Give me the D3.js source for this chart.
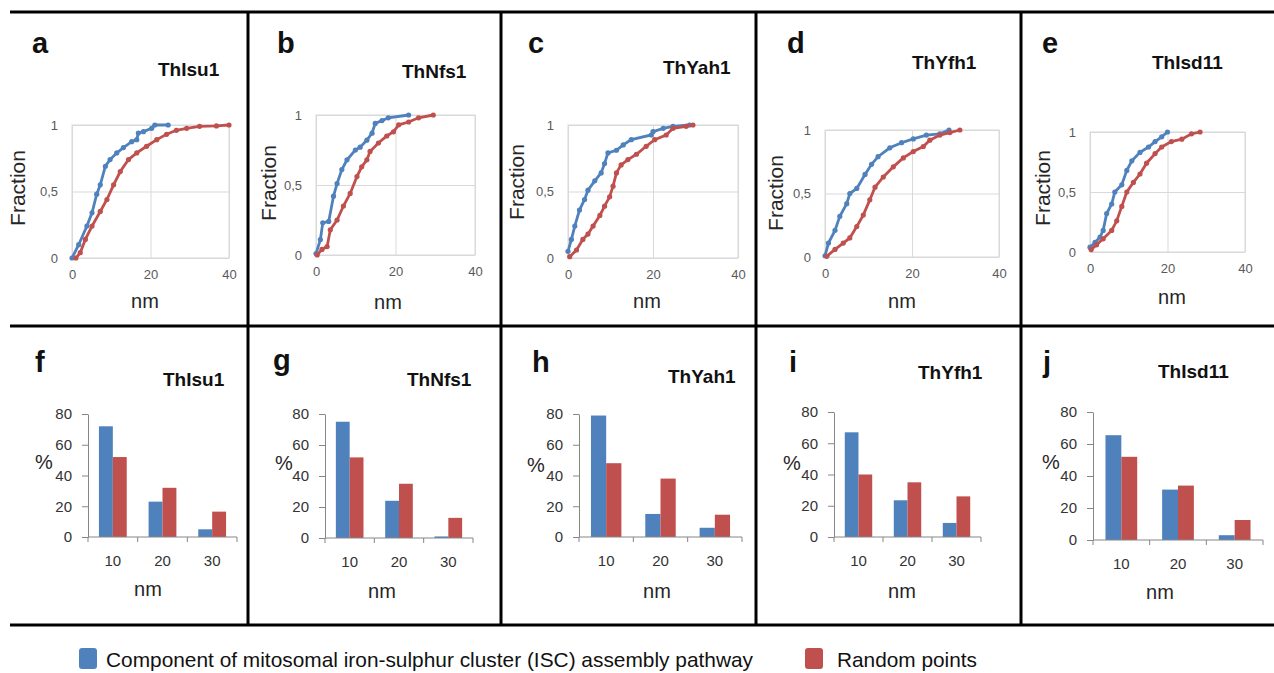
<!DOCTYPE html>
<html>
<head>
<meta charset="utf-8">
<script src="https://cdn.jsdelivr.net/npm/d3@7"></script>
<style>
  body { margin: 0; background: #fff; }
  svg { display: block; font-family: Arial, "Liberation Sans", sans-serif; }
</style>
</head>
<body>
<div id="chart"></div>
<script>
// ---- data ----
var cdfTitles = ["ThIsu1", "ThNfs1", "ThYah1", "ThYfh1", "ThIsd11"];
var cdfLetters = ["a", "b", "c", "d", "e"];
var barTitles = ["ThIsu1", "ThNfs1", "ThYah1", "ThYfh1", "ThIsd11"];
var barLetters = ["f", "g", "h", "i", "j"];
var seriesNames = ["Component of mitosomal iron-sulphur  cluster (ISC) assembly pathway", "Random points"];

// cumulative fraction curves [nm, fraction]
var iscIsu1 = [[0,0],[1.7,0.1],[3.8,0.24],[5.1,0.34],[6.3,0.48],[7.2,0.55],[8.5,0.69],[9.7,0.74],[11.4,0.79],[13.1,0.83],[15.2,0.875],[16.5,0.89],[16.9,0.94],[18.2,0.95],[20.3,0.975],[21.1,1],[24.5,1]];
var randIsu1 = [[1,0],[2.1,0.04],[3.4,0.14],[5.1,0.24],[7.2,0.35],[8.9,0.44],[10.6,0.55],[12.3,0.65],[14.4,0.74],[16.5,0.79],[19,0.84],[21.6,0.89],[24.1,0.93],[26.6,0.96],[29.2,0.975],[32.5,0.99],[36.8,0.993],[40,1]];
var iscNfs1 = [[0,0.01],[1.1,0.11],[1.7,0.23],[3.2,0.24],[4.4,0.42],[5.3,0.51],[6.5,0.61],[7.8,0.68],[9.9,0.75],[11.1,0.77],[12.8,0.82],[14.1,0.87],[14.9,0.94],[16.6,0.96],[18.2,0.98],[23.3,1]];
var randNfs1 = [[0.3,0],[1.5,0.04],[2.8,0.06],[3.6,0.18],[5.3,0.25],[6.9,0.35],[8.6,0.44],[10.3,0.56],[11.5,0.63],[12.8,0.68],[13.6,0.74],[15.7,0.8],[17.8,0.85],[19.5,0.88],[20.8,0.93],[23.3,0.95],[25.8,0.98],[29.5,1]];
var iscYah1 = [[0,0.05],[0.8,0.14],[1.6,0.24],[2.7,0.36],[3.9,0.44],[4.7,0.51],[6.3,0.58],[7.8,0.64],[8.6,0.71],[9.4,0.79],[11.4,0.81],[13,0.85],[14.9,0.89],[19.6,0.925],[20,0.95],[22.4,0.975],[24.7,0.99],[28.6,1]];
var randYah1 = [[0.4,0.01],[2,0.06],[3.5,0.14],[4.7,0.18],[5.9,0.24],[7.5,0.32],[8.6,0.39],[9.8,0.46],[10.6,0.54],[11.4,0.64],[12.5,0.7],[14.1,0.74],[16.1,0.78],[18.4,0.84],[20.4,0.89],[23.1,0.925],[24.7,0.975],[27.8,0.99],[29.4,1]];
var iscYfh1 = [[0,0.01],[0.8,0.11],[2.3,0.21],[3.4,0.32],[5,0.42],[5.7,0.5],[7.3,0.54],[9.2,0.65],[10.7,0.73],[12.2,0.79],[14.9,0.86],[17.6,0.9],[20.3,0.93],[23.3,0.96],[26.4,0.97],[28.5,1]];
var randYfh1 = [[0.4,0.005],[2.3,0.06],[4.2,0.11],[5.7,0.15],[7.3,0.24],[8.8,0.33],[10.3,0.45],[11.5,0.55],[13.4,0.63],[15.7,0.71],[18,0.78],[20.3,0.83],[22.6,0.87],[24.1,0.92],[26.4,0.96],[28.7,0.98],[31,1]];
var iscIsd11 = [[0,0.04],[1.3,0.08],[2.6,0.125],[3.4,0.18],[4.3,0.32],[5.6,0.4],[6.4,0.5],[8.2,0.56],[9.5,0.68],[10.8,0.76],[12.9,0.83],[15.1,0.875],[16.8,0.92],[18.5,0.96],[20,1]];
var randIsd11 = [[0.3,0.02],[1.7,0.06],[3.4,0.11],[5.6,0.18],[6.9,0.26],[8.2,0.38],[9.5,0.5],[11.2,0.58],[12.9,0.65],[14.6,0.74],[16.8,0.82],[18.5,0.875],[21,0.92],[23.7,0.94],[26.2,0.985],[28.4,1]];

var cdfIsc = [iscIsu1, iscNfs1, iscYah1, iscYfh1, iscIsd11];
var cdfRandom = [randIsu1, randNfs1, randYah1, randYfh1, randIsd11];
var cdfXTicks = [0, 20, 40];
var cdfYTicks = [0, 0.5, 1];

// distance class percentages
var barCategories = ["10", "20", "30"];
var barYTicks = [0, 20, 40, 60, 80];
var iscPercent = [[72, 23, 5], [75, 24, 1], [79, 15, 6], [67, 23.5, 9], [65.5, 31.5, 3]];
var randomPercent = [[52, 32, 16.5], [52, 35, 13], [48, 38, 14.5], [40, 35, 26], [52, 34, 12.5]];

// ---- styles / layout ----
var colors = ["#4F81BD", "#C0504D"];
var W = 1274, H = 673;

var svg = d3.select("#chart").append("svg")
    .attr("width", W)
    .attr("height", H);

// panel frame lines
var frame = svg.append("g").attr("stroke", "#000").attr("stroke-width", 3);
[12, 326, 625].forEach(function(y) {
    frame.append("line").attr("x1", 10).attr("x2", W).attr("y1", y).attr("y2", y);
});
[248, 501, 756, 1021].forEach(function(x) {
    frame.append("line").attr("x1", x).attr("x2", x).attr("y1", 12).attr("y2", 625);
});

// top row layout: plot box, title, letter, axis labels
var topLayout = [
    {x0: 72, x1: 229, yb: 258, yt: 125, tx: 158, ty: 76, lx: 32, ly: 53, nx: 145, ny: 302, fx: 18, fy: 188},
    {x0: 316, x1: 475, yb: 255, yt: 115, tx: 402, ty: 78, lx: 277, ly: 53, nx: 388, ny: 303, fx: 269, fy: 183},
    {x0: 568, x1: 738, yb: 258, yt: 125, tx: 663, ty: 74, lx: 528, ly: 53, nx: 647, ny: 302, fx: 517, fy: 182},
    {x0: 825, x1: 999, yb: 257, yt: 130, tx: 912, ty: 69, lx: 787, ly: 53, nx: 902, ny: 302, fx: 776, fy: 193},
    {x0: 1090, x1: 1245, yb: 252, yt: 132, tx: 1152, ty: 69, lx: 1042, ly: 53, nx: 1172, ny: 298, fx: 1043, fy: 188}
];

topLayout.forEach(function(L, i) {
    var g = svg.append("g");
    var x = d3.scaleLinear().domain([0, 40]).range([L.x0, L.x1]);
    var y = d3.scaleLinear().domain([0, 1]).range([L.yb, L.yt]);

    // gridlines + labels
    var xa = g.append("g")
        .attr("transform", "translate(0," + L.yb + ")")
        .call(d3.axisBottom(x).tickValues(cdfXTicks).tickSize(-(L.yb - L.yt)).tickPadding(12).tickFormat(d3.format("d")));
    var ya = g.append("g")
        .attr("transform", "translate(" + L.x0 + ",0)")
        .call(d3.axisLeft(y).tickValues(cdfYTicks).tickSize(-(L.x1 - L.x0)).tickPadding(14)
            .tickFormat(function(d) { return String(d).replace(".", ","); }));
    [xa, ya].forEach(function(a) {
        a.select(".domain").remove();
        a.selectAll("line").attr("stroke", "#d9d9d9");
        a.selectAll("text").attr("fill", "#595959").style("font-size", "13px").style("font-family", "Arial, 'Liberation Sans', sans-serif");
    });
    g.append("rect")
        .attr("x", L.x0).attr("y", L.yt)
        .attr("width", L.x1 - L.x0).attr("height", L.yb - L.yt)
        .attr("fill", "none").attr("stroke", "#d9d9d9");

    var line = d3.line().x(function(d) { return x(d[0]); }).y(function(d) { return y(d[1]); });
    [cdfIsc[i], cdfRandom[i]].forEach(function(s, k) {
        g.append("path").datum(s)
            .attr("d", line)
            .attr("fill", "none")
            .attr("stroke", colors[k])
            .attr("stroke-width", 2.8);
        g.selectAll(null).data(s).enter().append("circle")
            .attr("cx", function(d) { return x(d[0]); })
            .attr("cy", function(d) { return y(d[1]); })
            .attr("r", 2.6)
            .attr("fill", colors[k]);
    });

    g.append("text").attr("x", L.lx).attr("y", L.ly)
        .attr("font-size", 29).attr("font-weight", "bold").attr("fill", "#111")
        .text(cdfLetters[i]);
    g.append("text").attr("x", L.tx).attr("y", L.ty)
        .attr("font-size", 19).attr("font-weight", "bold").attr("fill", "#111")
        .text(cdfTitles[i]);
    g.append("text").attr("x", L.nx).attr("y", L.ny + 6)
        .attr("text-anchor", "middle").attr("font-size", 20).attr("fill", "#262626")
        .text("nm");
    g.append("text")
        .attr("transform", "translate(" + (L.fx + 7) + "," + L.fy + ") rotate(-90)")
        .attr("text-anchor", "middle").attr("font-size", 21).attr("fill", "#262626")
        .text("Fraction");
});

// bottom row layout
var botLayout = [
    {ax: 88, ax1: 237, y0: 537, y80: 414, tx: 163, ty: 386, lx: 35, ly: 372, nx: 148, ny: 590, px: 35, py: 462},
    {ax: 325, ax1: 473, y0: 538, y80: 414, tx: 407, ty: 386, lx: 273, ly: 370, nx: 382, ny: 592, px: 275, py: 463},
    {ax: 579, ax1: 742, y0: 537, y80: 414, tx: 668, ty: 383, lx: 532, ly: 372, nx: 657, ny: 592, px: 527, py: 465},
    {ax: 834, ax1: 981, y0: 537, y80: 412, tx: 918, ty: 379, lx: 789, ly: 372, nx: 902, ny: 592, px: 783, py: 463},
    {ax: 1093, ax1: 1263, y0: 540, y80: 412, tx: 1158, ty: 378, lx: 1043, ly: 372, nx: 1160, ny: 593, px: 1042, py: 462}
];

botLayout.forEach(function(L, i) {
    var g = svg.append("g");
    var x = d3.scaleBand().domain(barCategories).range([L.ax, L.ax1]);
    var bw = x.bandwidth();
    var xs = d3.scaleBand().domain([0, 1]).range([bw * 0.22, bw * 0.78]);
    var y = d3.scaleLinear().domain([0, 80]).range([L.y0, L.y80]);

    [iscPercent[i], randomPercent[i]].forEach(function(vals, k) {
        g.selectAll(null).data(vals).enter().append("rect")
            .attr("x", function(d, j) { return x(barCategories[j]) + xs(k); })
            .attr("y", function(d) { return y(d); })
            .attr("width", xs.bandwidth())
            .attr("height", function(d) { return L.y0 - y(d); })
            .attr("fill", colors[k]);
    });

    var ya = g.append("g")
        .attr("transform", "translate(" + L.ax + ",0)")
        .call(d3.axisLeft(y).tickValues(barYTicks).tickSize(6).tickSizeOuter(0).tickPadding(10));
    ya.select(".domain").attr("stroke", "#868686");
    ya.selectAll("line").attr("stroke", "#868686");
    ya.selectAll("text").attr("fill", "#333").style("font-size", "15px").style("font-family", "Arial, 'Liberation Sans', sans-serif");

    // category axis with boundary ticks
    g.append("line").attr("x1", L.ax).attr("x2", L.ax1).attr("y1", L.y0).attr("y2", L.y0).attr("stroke", "#868686");
    var bounds = barCategories.map(function(c) { return x(c); }).concat([L.ax1]);
    g.selectAll(null).data(bounds).enter().append("line")
        .attr("x1", function(d) { return d; }).attr("x2", function(d) { return d; })
        .attr("y1", L.y0).attr("y2", L.y0 + 5)
        .attr("stroke", "#868686");
    g.selectAll(null).data(barCategories).enter().append("text")
        .attr("x", function(d) { return x(d) + bw / 2; })
        .attr("y", L.y0 + 29)
        .attr("text-anchor", "middle").attr("font-size", 15).attr("fill", "#333")
        .text(function(d) { return d; });

    g.append("text").attr("x", L.lx).attr("y", L.ly)
        .attr("font-size", 29).attr("font-weight", "bold").attr("fill", "#111")
        .text(barLetters[i]);
    g.append("text").attr("x", L.tx).attr("y", L.ty)
        .attr("font-size", 19).attr("font-weight", "bold").attr("fill", "#111")
        .text(barTitles[i]);
    g.append("text").attr("x", L.nx).attr("y", L.ny + 6)
        .attr("text-anchor", "middle").attr("font-size", 20).attr("fill", "#262626")
        .text("nm");
    g.append("text").attr("x", L.px).attr("y", L.py + 7)
        .attr("font-size", 20).attr("fill", "#262626")
        .text("%");
});

// legend
var legend = [
    {x: 79, tx: 106, len: 647},
    {x: 805, tx: 837, len: 140}
];
legend.forEach(function(d, k) {
    svg.append("rect")
        .attr("x", d.x).attr("y", 648)
        .attr("width", 18).attr("height", 21)
        .attr("rx", 3)
        .attr("fill", colors[k]);
    svg.append("text")
        .attr("x", d.tx).attr("y", 667)
        .attr("font-size", 21).attr("fill", "#111")
        .attr("textLength", d.len).attr("lengthAdjust", "spacingAndGlyphs")
        .text(seriesNames[k]);
});
</script>
</body>
</html>
